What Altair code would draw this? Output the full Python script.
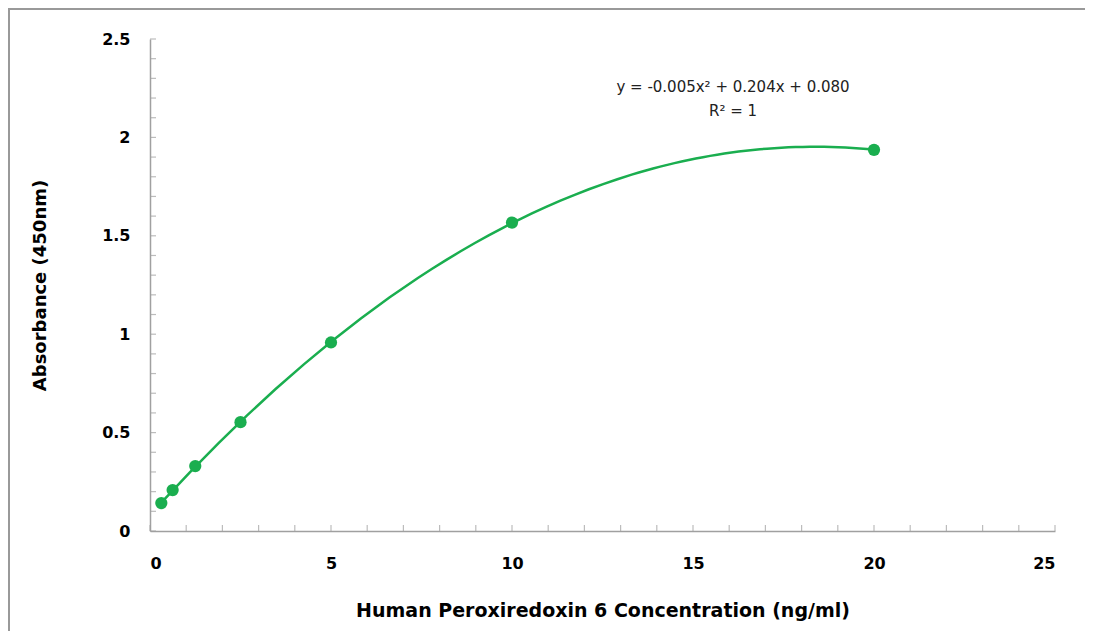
import altair as alt
import pandas as pd

# Data
conc = [0.3125, 0.625, 1.25, 2.5, 5, 10, 20]
absorb = [0.142, 0.208, 0.330, 0.553, 0.958, 1.567, 1.937]

x_ticks = list(range(0, 26))
y_ticks = [round(i * 0.1, 1) for i in range(0, 26)]
x_labels = [0, 5, 10, 15, 20, 25]
y_labels = [0, 0.5, 1, 1.5, 2, 2.5]

eq_line1 = "y = -0.005x\u00b2 + 0.204x + 0.080"
eq_line2 = "R\u00b2 = 1"

GREEN = "#1aae4f"
GRAY = "#a0a0a0"
W, H = 905, 492
PAD_L, PAD_T, PAD_R, PAD_B = 142, 31, 30, 100
BOLD_FONT = "DejaVu Sans"

df = pd.DataFrame({"conc": conc, "abs": absorb})

xs = alt.Scale(domain=[0, 25], nice=False, zero=False)
ys = alt.Scale(domain=[0, 2.5], nice=False, zero=False)

x_axis = alt.Axis(values=x_labels, format="~g", ticks=False, grid=False,
                  domainColor=GRAY, domainWidth=1.5, labelPadding=24,
                  labelFont=BOLD_FONT, labelFontSize=16, labelFontWeight="bold",
                  labelColor="#000000",
                  title="Human Peroxiredoxin 6 Concentration (ng/ml)",
                  titleFont=BOLD_FONT, titleFontSize=19, titleFontWeight="bold",
                  titleColor="#000000", titlePadding=30)
y_axis = alt.Axis(values=y_labels, format="~g", ticks=False, grid=False,
                  domainColor=GRAY, domainWidth=1.5, labelPadding=20,
                  labelFont=BOLD_FONT, labelFontSize=16, labelFontWeight="bold",
                  labelColor="#000000",
                  title="Absorbance (450nm)",
                  titleFont=BOLD_FONT, titleFontSize=18, titleFontWeight="bold",
                  titleColor="#000000", titlePadding=52)

base = alt.Chart(df)

fit = base.transform_regression("conc", "abs", method="poly", order=2).mark_line(
    color=GREEN, strokeWidth=2.5
).encode(
    x=alt.X("conc:Q", scale=xs, axis=x_axis),
    y=alt.Y("abs:Q", scale=ys, axis=y_axis),
)

pts = base.mark_circle(color=GREEN, size=150, opacity=1).encode(
    x=alt.X("conc:Q", scale=xs, axis=x_axis),
    y=alt.Y("abs:Q", scale=ys, axis=y_axis),
)

xt = alt.Chart(pd.DataFrame({"t": x_ticks})).mark_tick(
    orient="vertical", color=GRAY, size=6, thickness=1.2, yOffset=-3
).encode(x=alt.X("t:Q", scale=xs, axis=x_axis), y=alt.value(H))

yt = alt.Chart(pd.DataFrame({"t": y_ticks})).mark_tick(
    orient="horizontal", color=GRAY, size=6, thickness=1.2, xOffset=3
).encode(y=alt.Y("t:Q", scale=ys, axis=y_axis), x=alt.value(0))

eq1 = alt.Chart(pd.DataFrame({"txt": [eq_line1]})).mark_text(
    font="DejaVu Sans", fontSize=15, color="#222222", align="center", baseline="middle"
).encode(text="txt:N", x=alt.value(583), y=alt.value(48))

eq2 = alt.Chart(pd.DataFrame({"txt": [eq_line2]})).mark_text(
    font="DejaVu Sans", fontSize=15, color="#222222", align="center", baseline="middle"
).encode(text="txt:N", x=alt.value(583), y=alt.value(72))

border_top = alt.Chart(df).mark_rule(color="#999999", strokeWidth=2).encode(
    x=alt.value(-PAD_L), x2=alt.value(W + PAD_R), y=alt.value(-PAD_T + 1)
)
border_left = alt.Chart(df).mark_rule(color="#999999", strokeWidth=2).encode(
    x=alt.value(-PAD_L + 1), y=alt.value(-PAD_T), y2=alt.value(H + PAD_B)
)

chart = alt.layer(fit, xt, yt, pts, eq1, eq2, border_top, border_left).properties(
    width=W, height=H,
    background="white",
    autosize=alt.AutoSizeParams(type="none"),
    padding={"left": PAD_L, "top": PAD_T, "right": PAD_R, "bottom": PAD_B},
).configure_view(strokeWidth=0, stroke="transparent").configure_axis(grid=False)

chart.save("out.html", embed_options={"renderer": "svg", "actions": False})
